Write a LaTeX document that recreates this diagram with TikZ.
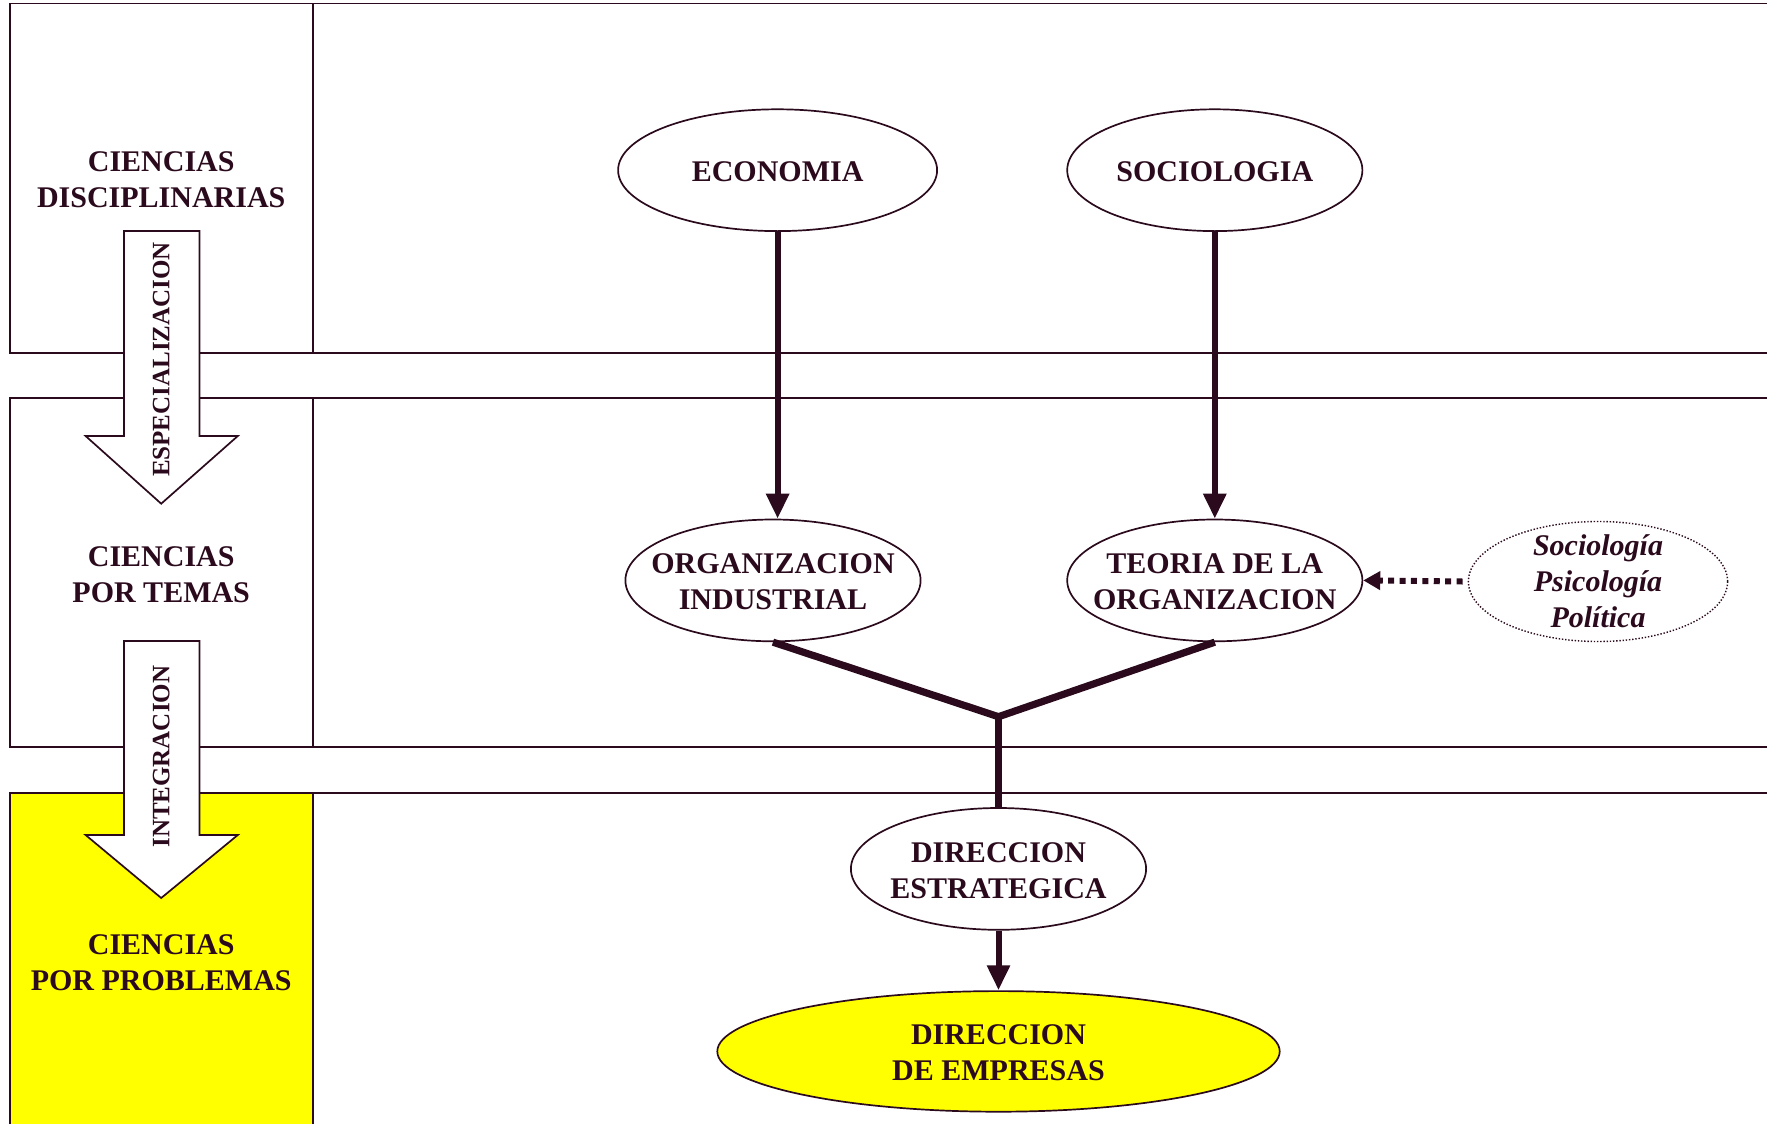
\documentclass[tikz,border=0pt]{standalone}
\usepackage{fontspec}
\setmainfont{Liberation Serif}
\usetikzlibrary{shapes.geometric,arrows.meta}
\definecolor{ink}{HTML}{2A0A1C}
\definecolor{hilite}{HTML}{FFFF00}

\begin{document}
\begin{tikzpicture}[x=0.5pt,y=-0.5pt,
  band/.style={draw=ink,line width=0.85pt},
  bigarrow/.style={draw=ink,fill=white,line width=0.85pt,line join=miter},
  bubble/.style={ellipse,draw=ink,line width=0.85pt,inner sep=0pt,fill=white},
  lbl/.style={font=\fontsize{15}{18}\selectfont\bfseries,text=ink,align=center,yshift=-0.8pt},
  sidelbl/.style={font=\fontsize{15}{18}\selectfont\bfseries\itshape,text=ink,align=center},
  vlbl/.style={font=\fontsize{12.5}{15}\selectfont\bfseries,text=ink,rotate=90,inner sep=0pt},
  conn/.style={draw=ink,line width=3pt,-{Triangle[width=11pt,length=12.5pt]}},
  fork/.style={draw=ink,line width=3.6pt,line join=miter},
  stem/.style={draw=ink,line width=3.3pt},
  feed/.style={draw=ink,line width=3pt,dash pattern=on 3pt off 2.7pt,-{Triangle[width=9pt,length=8.5pt]}},
]
\useasboundingbox (0,0) rectangle (1767,1124);
\clip (0,0) rectangle (1767,1124);

% three horizontal bands, each split into a label column and a content area
\fill[hilite] (10.1,793.3) rectangle (313.3,1140);
\draw[band] (10.1,3.4) rectangle (313.3,352.7);
\draw[band] (313.3,3.4) rectangle (1790,352.7);
\draw[band] (10.1,397.8) rectangle (313.3,747.1);
\draw[band] (313.3,397.8) rectangle (1790,747.1);
\draw[band] (10.1,793.3) rectangle (313.3,1140);
\draw[band] (313.3,793.3) rectangle (1790,1140);

% block arrows in the label column
\draw[bigarrow] (124,231) -- (199.5,231) -- (199.5,436) -- (237.8,436)
  -- (161.2,503.7) -- (85.6,436) -- (124,436) -- cycle;
\draw[bigarrow] (124,641) -- (199.5,641) -- (199.5,835) -- (237.8,835)
  -- (161.2,898) -- (85.6,835) -- (124,835) -- cycle;
\node[vlbl] (espec) at (161.2,359.5) {ESPECIALIZACION};
\node[vlbl] (integ) at (161.2,756.7) {INTEGRACION};

% column labels
\node[lbl] (cdisc) at (161.2,178) {CIENCIAS\\DISCIPLINARIAS};
\node[lbl] (ctem) at (161.2,573.6) {CIENCIAS\\POR TEMAS};
\node[lbl] (cprob) at (161.2,961) {CIENCIAS\\POR PROBLEMAS};

% disciplines and fields
\node[bubble,minimum width=159.5pt,minimum height=60.9pt,
  label={[lbl]center:ECONOMIA}] (eco) at (777.6,170.2) {};
\node[bubble,minimum width=147.6pt,minimum height=60.9pt,
  label={[lbl]center:SOCIOLOGIA}] (soc) at (1214.8,170.2) {};
\node[bubble,minimum width=147.6pt,minimum height=60.9pt,
  label={[lbl]center:ORGANIZACION\\INDUSTRIAL}] (org) at (773,580.4) {};
\node[bubble,minimum width=147.6pt,minimum height=60.9pt,
  label={[lbl]center:TEORIA DE LA\\ORGANIZACION}] (teo) at (1214.8,580.4) {};
\node[bubble,draw=none,minimum width=129.6pt,minimum height=60pt,
  label={[sidelbl]center:Sociología\\Psicología\\Política}] (side) at (1598,581.5) {};
\draw[ink,line width=0.7pt,dash pattern=on 0.7pt off 0.9pt]
  (side.center) ellipse (129.6 and 60);
\node[bubble,minimum width=147.6pt,minimum height=60.9pt,
  label={[lbl]center:DIRECCION\\ESTRATEGICA}] (dest) at (998.5,868.9) {};
\node[bubble,fill=hilite,minimum width=281.2pt,minimum height=60.3pt,
  label={[lbl]center:DIRECCION\\DE EMPRESAS}] (demp) at (998.5,1051.4) {};

% connectors
\draw[conn] (eco.south) -- (eco.south |- org.north);
\draw[conn] (soc.south) -- (soc.south |- teo.north);
\coordinate (join) at (998.5,716.7);
\draw[fork] (org.south) -- (join) -- (teo.south);
\draw[stem] (join) -- (dest.north);
\draw[conn] (dest.south) -- (demp.north);
\draw[feed] ([xshift=-2.5pt]side.west) -- (teo.east);
\end{tikzpicture}
\end{document}
